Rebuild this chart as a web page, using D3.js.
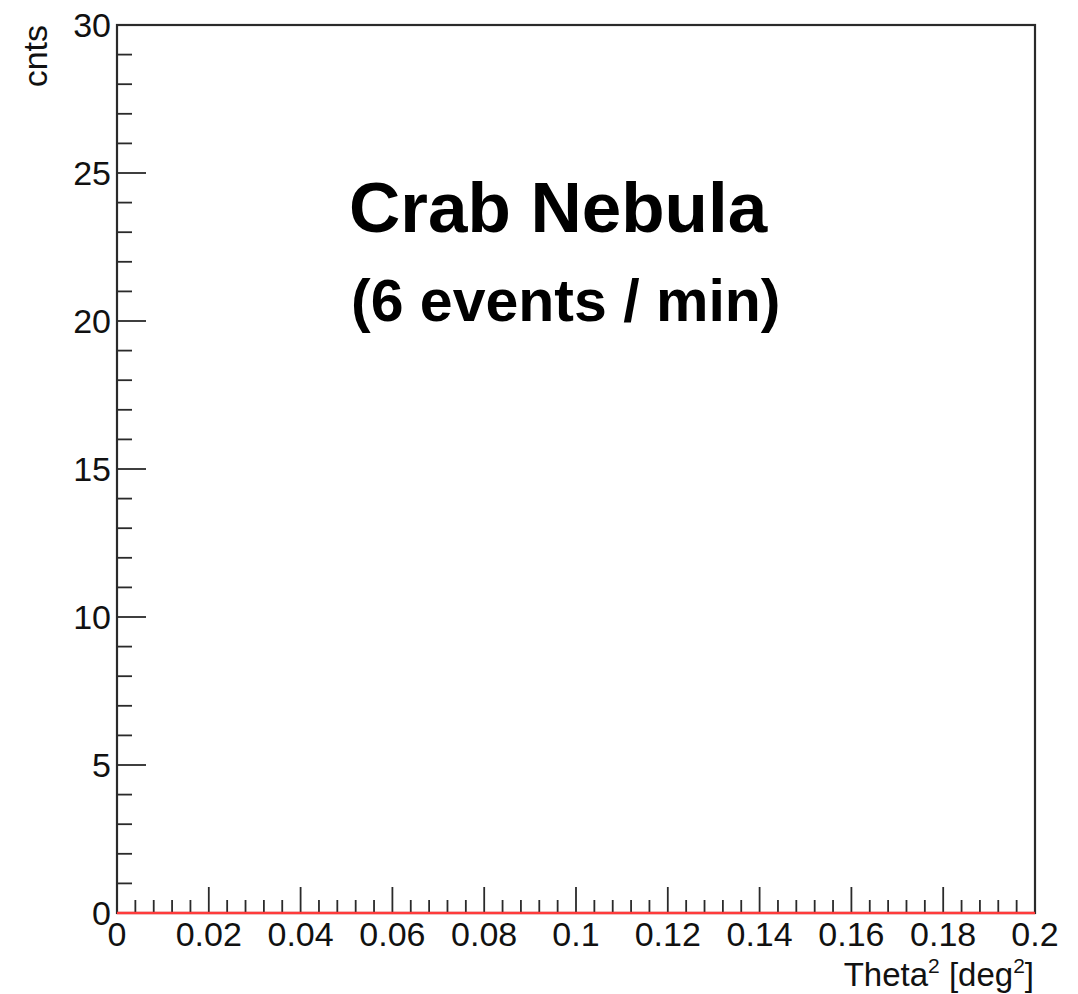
<!DOCTYPE html>
<html><head><meta charset="utf-8">
<script src="https://cdn.jsdelivr.net/npm/d3@7"></script>
<style>html,body{margin:0;padding:0;background:#fff;} svg{display:block;}</style>
</head><body>
<script>
const xMajorTicks = [0,0.02,0.04,0.06,0.08,0.1,0.12,0.14,0.16,0.18,0.2];
const xTickLabels = ["0","0.02","0.04","0.06","0.08","0.1","0.12","0.14","0.16","0.18","0.2"];
const yMajorTicks = [0,5,10,15,20,25,30];
const yTickLabels = ["0","5","10","15","20","25","30"];
const binEdges = [0,0.005,0.01,0.015,0.02,0.025,0.03,0.035,0.04,0.045,0.05,0.055,0.06,0.065,0.07,0.075,0.08,0.085,0.09,0.095,0.1,0.105,0.11,0.115,0.12,0.125,0.13,0.135,0.14,0.145,0.15,0.155,0.16,0.165,0.17,0.175,0.18,0.185,0.19,0.195,0.2];
const binCounts = [0,0,0,0,0,0,0,0,0,0,0,0,0,0,0,0,0,0,0,0,0,0,0,0,0,0,0,0,0,0,0,0,0,0,0,0,0,0,0,0];
const titleLines = ["Crab Nebula","(6 events / min)"];

const W=1078,H=994;
const L=117,R=1035,T=25,B=913;
const svg=d3.select("body").append("svg").attr("width",W).attr("height",H);
const x=d3.scaleLinear().domain([0,0.2]).range([L,R]);
const y=d3.scaleLinear().domain([0,30]).range([B,T]);
const font="'Liberation Sans', Arial, Helvetica, sans-serif";
const axCol="#2a2a2a";

// minor ticks
const xMinor=d3.range(0,51).map(i=>i*0.004).filter(v=>Math.abs(Math.round(v/0.02)*0.02-v)>1e-9);
const yMinor=d3.range(0,31).filter(v=>v%5!==0);

const g=svg.append("g");
g.selectAll(".xmin").data(xMinor).enter().append("line")
 .attr("x1",d=>x(d)).attr("x2",d=>x(d)).attr("y1",B).attr("y2",B-13)
 .attr("stroke",axCol).attr("stroke-width",1.8);
g.selectAll(".xmaj").data(xMajorTicks).enter().append("line")
 .attr("x1",d=>x(d)).attr("x2",d=>x(d)).attr("y1",B).attr("y2",B-26)
 .attr("stroke",axCol).attr("stroke-width",1.8);
g.selectAll(".ymin").data(yMinor).enter().append("line")
 .attr("y1",d=>y(d)).attr("y2",d=>y(d)).attr("x1",L).attr("x2",L+15)
 .attr("stroke",axCol).attr("stroke-width",1.8);
g.selectAll(".ymaj").data(yMajorTicks).enter().append("line")
 .attr("y1",d=>y(d)).attr("y2",d=>y(d)).attr("x1",L).attr("x2",L+29)
 .attr("stroke",axCol).attr("stroke-width",1.8);

// frame
svg.append("rect").attr("x",L).attr("y",T).attr("width",R-L).attr("height",B-T)
 .attr("fill","none").attr("stroke",axCol).attr("stroke-width",2.2);

// histogram
const pts=[];
binCounts.forEach((c,i)=>{pts.push([binEdges[i],c]);pts.push([binEdges[i+1],c]);});
svg.append("path").datum(pts)
 .attr("d",d3.line().x(d=>x(d[0])).y(d=>y(d[1])))
 .attr("fill","none").attr("stroke","#ff3b3b").attr("stroke-width",2.4);

// tick labels
svg.selectAll(".xl").data(xMajorTicks).enter().append("text")
 .attr("x",d=>x(d)).attr("y",946).attr("text-anchor","middle")
 .attr("font-family",font).attr("font-size",34).attr("fill","#111")
 .text((d,i)=>xTickLabels[i]);
svg.selectAll(".yl").data(yMajorTicks).enter().append("text")
 .attr("x",L-6).attr("y",d=>y(d)).attr("dy","0.36em").attr("text-anchor","end")
 .attr("font-family",font).attr("font-size",34).attr("fill","#111")
 .text((d,i)=>yTickLabels[i]);

// axis titles
const xt=svg.append("text").attr("x",R-1).attr("y",986).attr("text-anchor","end")
 .attr("font-family",font).attr("font-size",33).attr("fill","#111");
xt.append("tspan").text("Theta");
xt.append("tspan").attr("dy",-13).attr("font-size",21).text("2");
xt.append("tspan").attr("dy",13).text(" [deg");
xt.append("tspan").attr("dy",-13).attr("font-size",21).text("2");
xt.append("tspan").attr("dy",13).text("]");

svg.append("text").attr("transform",`translate(47,${T}) rotate(-90)`)
 .attr("text-anchor","end").attr("font-family",font).attr("font-size",34).attr("fill","#111")
 .text("cnts");

// title text
svg.append("text").attr("x",349).attr("y",232).attr("font-family",font)
 .attr("font-weight","bold").attr("font-size",71).attr("fill","#000").text(titleLines[0]);
svg.append("text").attr("x",351).attr("y",321).attr("font-family",font)
 .attr("font-weight","bold").attr("font-size",59).attr("fill","#000").text(titleLines[1]);
</script>
</body></html>
